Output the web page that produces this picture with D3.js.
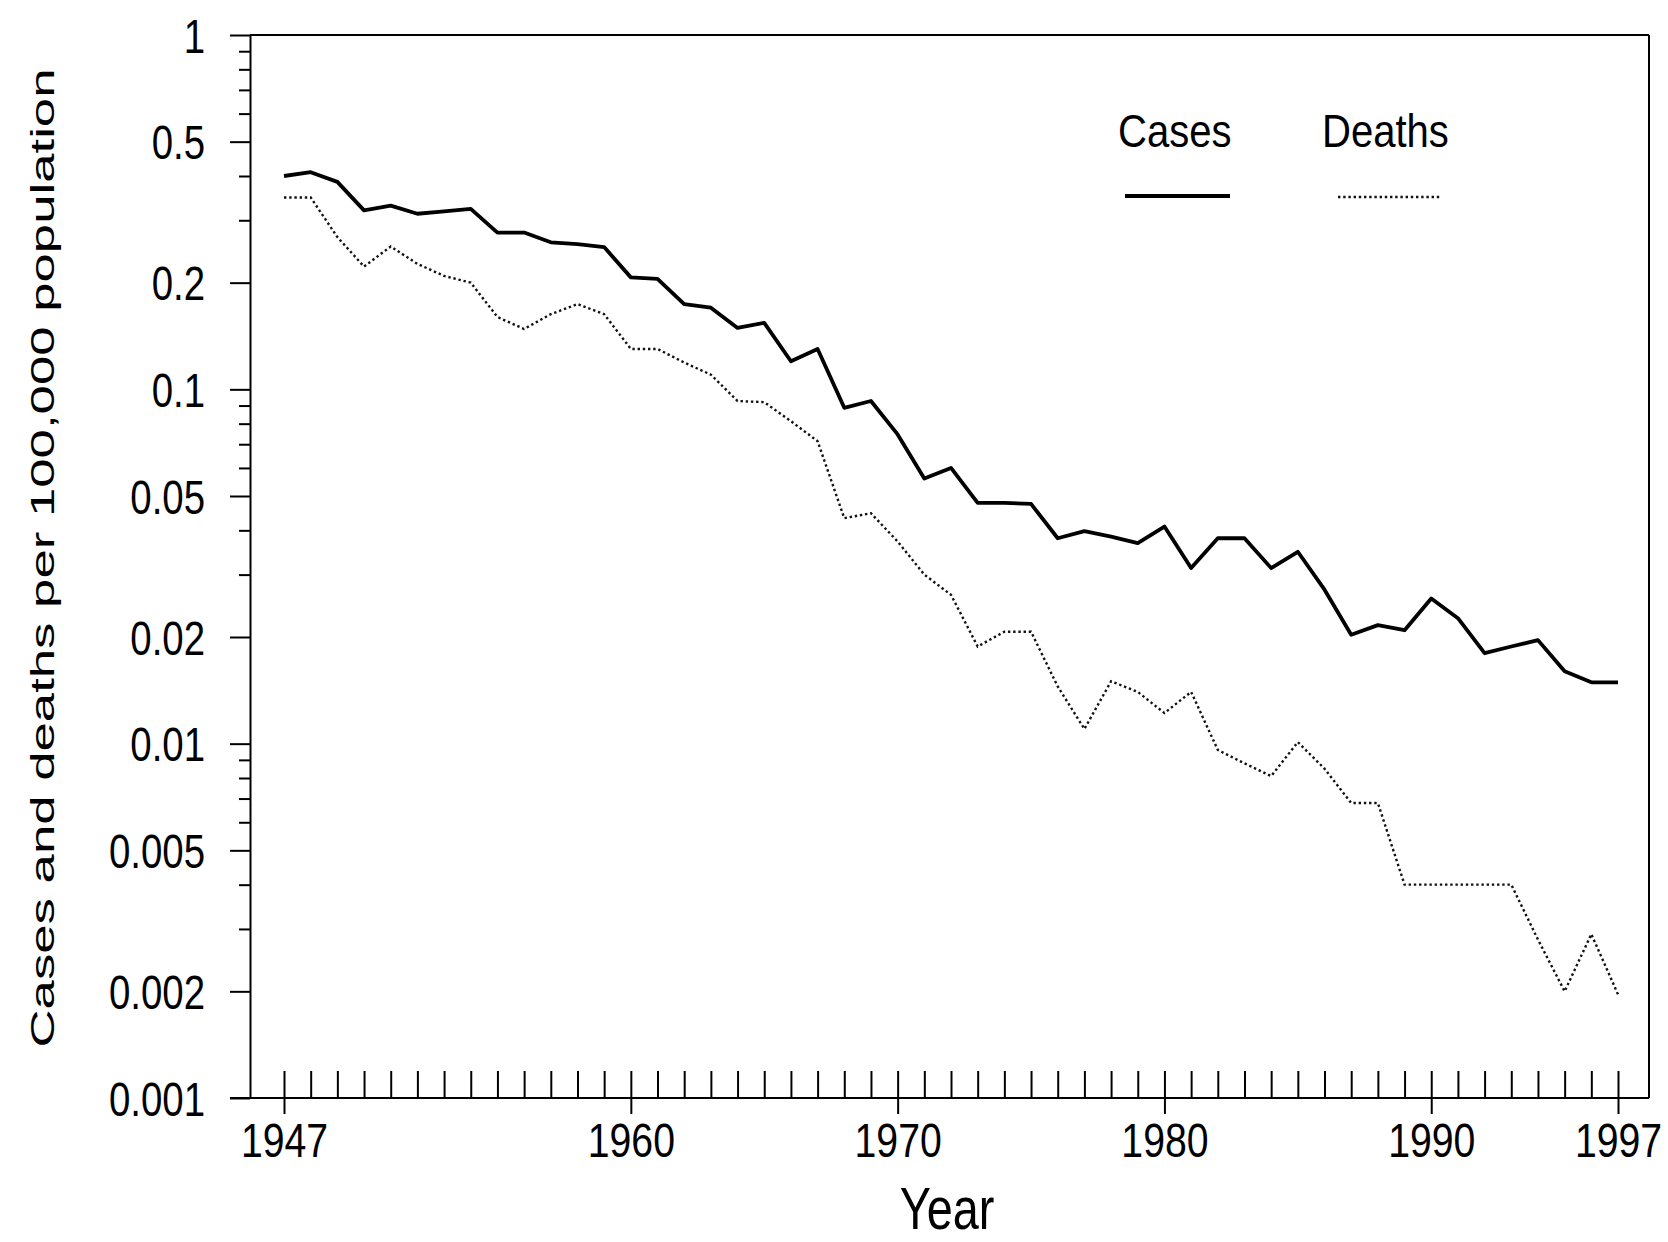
<!DOCTYPE html>
<html>
<head>
<meta charset="utf-8">
<script src="https://cdn.jsdelivr.net/npm/d3@7"></script>
<style>
  html, body { margin: 0; padding: 0; background: #fff; }
  svg { display: block; }
  text { font-family: "Liberation Sans", Arial, sans-serif; fill: #000; }
</style>
</head>
<body>
<svg id="chart" width="1668" height="1242"></svg>
<script>
// ---- Data ----
const years = [1947,1948,1949,1950,1951,1952,1953,1954,1955,1956,
               1957,1958,1959,1960,1961,1962,1963,1964,1965,1966,
               1967,1968,1969,1970,1971,1972,1973,1974,1975,1976,
               1977,1978,1979,1980,1981,1982,1983,1984,1985,1986,
               1987,1988,1989,1990,1991,1992,1993,1994,1995,1996,1997];

const cases = [0.400,0.410,0.385,0.320,0.330,0.313,0.318,0.323,0.277,0.277,
               0.260,0.257,0.252,0.207,0.205,0.174,0.170,0.149,0.154,0.120,
               0.130,0.0887,0.0927,0.0746,0.056,0.060,0.0478,0.0478,0.0475,0.038,
               0.0398,0.0384,0.0368,0.041,0.0313,0.038,0.038,0.0313,0.0348,0.0272,
               0.0203,0.0216,0.0209,0.0257,0.0226,0.018,0.0188,0.0196,0.016,0.0149,0.0149];

const deaths = [0.348,0.348,0.269,0.222,0.253,0.226,0.209,0.200,0.160,0.148,
                0.163,0.174,0.163,0.130,0.130,0.119,0.110,0.0927,0.092,0.0813,
                0.0714,0.0433,0.0447,0.0372,0.030,0.0263,0.0188,0.0207,0.0207,0.0145,
                0.011,0.015,0.014,0.0122,0.014,0.0096,0.0088,0.0081,0.0101,0.0085,
                0.0068,0.0068,0.0040,0.0040,0.0040,0.0040,0.0040,0.0028,0.0020,0.0029,0.00196];

const yMajorTicks = [1, 0.5, 0.2, 0.1, 0.05, 0.02, 0.01, 0.005, 0.002, 0.001];
const yMajorLabels = ["1","0.5","0.2","0.1","0.05","0.02","0.01","0.005","0.002","0.001"];
const yMinorTicks = [0.9,0.8,0.7,0.6,0.4,0.3,
                     0.09,0.08,0.07,0.06,0.04,0.03,
                     0.009,0.008,0.007,0.006,0.004,0.003];
const xLabelYears = [1947, 1960, 1970, 1980, 1990, 1997];

const seriesNames = ["Cases", "Deaths"];
const yTitle = "Cases and deaths per 100,000 population";
const xTitle = "Year";

// ---- Layout ----
const svg = d3.select("#chart");
const frame = { left: 250, right: 1649, top: 35, bottom: 1098 };

const x = d3.scaleLinear().domain([1947, 1997]).range([284, 1618]);
const y = d3.scaleLog().domain([1, 0.001]).range([frame.top, frame.bottom]);

const axisColor = "#000";
const narrow = 0.8;

// Frame: top and right borders
svg.append("line").attr("x1", frame.left).attr("x2", frame.right)
  .attr("y1", frame.top).attr("y2", frame.top)
  .attr("stroke", axisColor).attr("stroke-width", 2);
svg.append("line").attr("x1", frame.right).attr("x2", frame.right)
  .attr("y1", frame.top).attr("y2", frame.bottom)
  .attr("stroke", axisColor).attr("stroke-width", 2);

// Y axis major ticks + labels
const yAxisMajor = svg.append("g")
  .attr("transform", `translate(${frame.left},0)`)
  .call(d3.axisLeft(y).tickValues(yMajorTicks).tickSize(20).tickSizeOuter(0)
        .tickFormat((d, i) => yMajorLabels[i]));
yAxisMajor.select(".domain").attr("stroke-width", 2).attr("stroke", axisColor);
yAxisMajor.selectAll(".tick line").attr("stroke-width", 2).attr("stroke", axisColor);
yAxisMajor.selectAll(".tick text")
  .attr("font-size", 48)
  .attr("x", -45 / narrow)
  .attr("dy", "0.36em")
  .attr("transform", `scale(${narrow},1)`)
  .attr("font-family", "Liberation Sans, Arial, sans-serif")
  .attr("fill", "#1a1a1a");

// Y axis minor ticks
const yAxisMinor = svg.append("g")
  .attr("transform", `translate(${frame.left},0)`)
  .call(d3.axisLeft(y).tickValues(yMinorTicks).tickSize(11).tickSizeOuter(0).tickFormat(""));
yAxisMinor.select(".domain").remove();
yAxisMinor.selectAll(".tick line").attr("stroke-width", 2).attr("stroke", axisColor);

// X axis: every year tick pointing up into the plot
const xAxisAll = svg.append("g")
  .attr("transform", `translate(0,${frame.bottom})`)
  .call(d3.axisBottom(x).tickValues(years).tickSize(-27).tickSizeOuter(0).tickFormat(""));
xAxisAll.select(".domain").remove();
xAxisAll.selectAll(".tick line").attr("stroke-width", 2).attr("stroke", axisColor);

// X axis baseline
svg.append("line").attr("x1", 230).attr("x2", frame.right)
  .attr("y1", frame.bottom).attr("y2", frame.bottom)
  .attr("stroke", axisColor).attr("stroke-width", 2);

// X axis labeled ticks pointing down
const xAxisLab = svg.append("g")
  .attr("transform", `translate(0,${frame.bottom})`)
  .call(d3.axisBottom(x).tickValues(xLabelYears).tickSize(16).tickSizeOuter(0)
        .tickFormat(d3.format("d")));
xAxisLab.select(".domain").remove();
xAxisLab.selectAll(".tick line").attr("stroke-width", 2).attr("stroke", axisColor);
xAxisLab.selectAll(".tick text")
  .attr("font-size", 49)
  .attr("y", 59)
  .attr("dy", 0)
  .attr("transform", `scale(${narrow},1)`)
  .attr("font-family", "Liberation Sans, Arial, sans-serif")
  .attr("fill", "#1a1a1a");

// Lines
const line = d3.line()
  .x(d => x(d.year))
  .y(d => y(d.v));

const casesData = years.map((yr, i) => ({ year: yr, v: cases[i] }));
const deathsData = years.map((yr, i) => ({ year: yr, v: deaths[i] }));

svg.append("path").datum(casesData)
  .attr("d", line)
  .attr("fill", "none")
  .attr("stroke", "#000")
  .attr("stroke-width", 3.8)
  .attr("stroke-linejoin", "round");

svg.append("path").datum(deathsData)
  .attr("d", line)
  .attr("fill", "none")
  .attr("stroke", "#111")
  .attr("stroke-width", 2.4)
  .attr("stroke-dasharray", "2.4,2.8");

// Legend
const legendScale = 0.87;
svg.append("text")
  .attr("transform", `translate(1118,147) scale(${legendScale},1)`)
  .attr("font-size", 46)
  .attr("fill", "#1a1a1a")
  .text(seriesNames[0]);
svg.append("text")
  .attr("transform", `translate(1322,147) scale(${legendScale},1)`)
  .attr("font-size", 46)
  .attr("fill", "#1a1a1a")
  .text(seriesNames[1]);
svg.append("line").attr("x1", 1125).attr("x2", 1230).attr("y1", 196).attr("y2", 196)
  .attr("stroke", "#000").attr("stroke-width", 4);
svg.append("line").attr("x1", 1338).attr("x2", 1442).attr("y1", 197).attr("y2", 197)
  .attr("stroke", "#111").attr("stroke-width", 2.4).attr("stroke-dasharray", "2.4,2.8");

// Axis titles
svg.append("text")
  .attr("transform", "translate(54,558) rotate(-90)")
  .attr("text-anchor", "middle")
  .attr("font-size", 34)
  .attr("textLength", 979)
  .attr("lengthAdjust", "spacingAndGlyphs")
  .attr("fill", "#1a1a1a")
  .text(yTitle);

svg.append("text")
  .attr("transform", `translate(947,1229) scale(0.78,1)`)
  .attr("text-anchor", "middle")
  .attr("font-size", 60)
  .text(xTitle);
</script>
</body>
</html>
